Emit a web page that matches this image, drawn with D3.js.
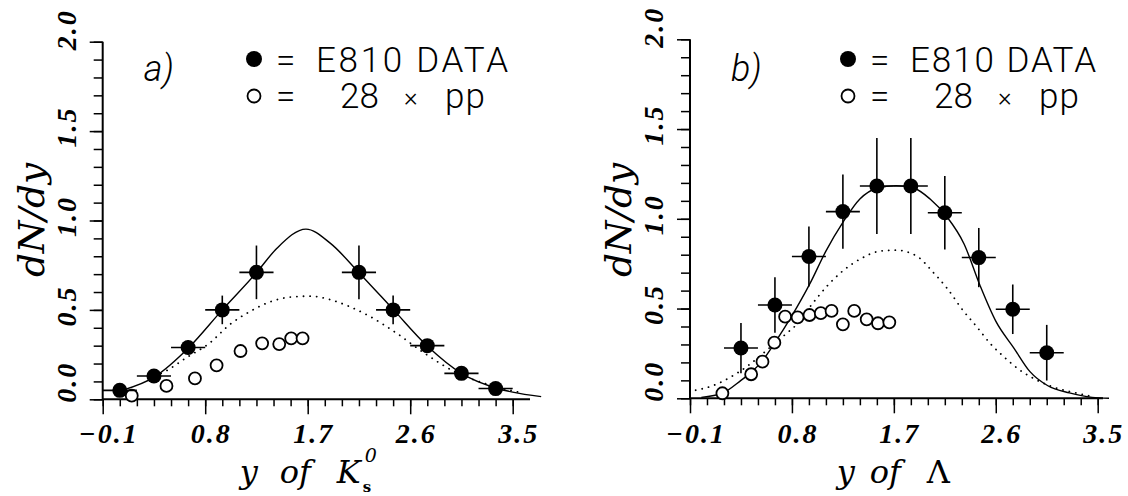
<!DOCTYPE html>
<html>
<head>
<meta charset="utf-8">
<script src="https://cdn.jsdelivr.net/npm/d3@7"></script>
<style>
  body { margin: 0; background: #fff; }
  svg { display: block; }
</style>
</head>
<body>
<svg id="chart" width="1128" height="496"></svg>
<script>
// tick labels (both panels)
const xTickValues = [-0.1, 0.8, 1.7, 2.6, 3.5];
const yTickValues = [0.0, 0.5, 1.0, 1.5, 2.0];

// a) K0s : E810 data
const kaonX = [0.05, 0.35, 0.65, 0.95, 1.25, 2.15, 2.45, 2.75, 3.05, 3.35];
const kaonY = [0.05, 0.13, 0.29, 0.50, 0.71, 0.71, 0.50, 0.30, 0.145, 0.06];
const kaonErr = [0.02, 0.03, 0.04, 0.08, 0.15, 0.15, 0.08, 0.03, 0.02, 0.02];
// a) 28 x pp
const kaonPpX = [0.155, 0.46, 0.71, 0.90, 1.11, 1.30, 1.45, 1.555, 1.655];
const kaonPpY = [0.02, 0.075, 0.117, 0.19, 0.27, 0.313, 0.309, 0.341, 0.341];
// a) solid and dotted curves
const kaonFitX = [0.07, 0.36, 0.65, 0.95, 1.25, 1.43, 1.685, 1.90, 2.15, 2.45, 2.75, 3.05, 3.36, 3.50, 3.75];
const kaonFitY = [0.05, 0.127, 0.285, 0.50, 0.708, 0.845, 0.952, 0.872, 0.708, 0.503, 0.298, 0.145, 0.062, 0.04, 0.015];
const kaonDotX = [0.36, 0.46, 0.64, 0.83, 1.02, 1.19, 1.37, 1.55, 1.72, 1.90, 2.07, 2.25, 2.48, 2.72, 3.01, 3.30, 3.55];
const kaonDotY = [0.13, 0.16, 0.235, 0.31, 0.42, 0.49, 0.545, 0.572, 0.577, 0.557, 0.518, 0.462, 0.37, 0.26, 0.148, 0.08, 0.04];

// b) Lambda : E810 data
const lamX = [0.35, 0.65, 0.95, 1.25, 1.55, 1.85, 2.15, 2.45, 2.75, 3.05];
const lamY = [0.28, 0.52, 0.79, 1.04, 1.183, 1.183, 1.034, 0.784, 0.496, 0.254];
const lamErr = [0.14, 0.155, 0.167, 0.207, 0.267, 0.267, 0.205, 0.165, 0.138, 0.155];
// b) 28 x pp
const lamPpX = [0.186, 0.44, 0.54, 0.645, 0.74, 0.85, 0.955, 1.055, 1.15, 1.25, 1.35, 1.46, 1.56, 1.66];
const lamPpY = [0.028, 0.134, 0.204, 0.31, 0.455, 0.451, 0.464, 0.474, 0.487, 0.412, 0.487, 0.44, 0.418, 0.423];
// b) solid and dotted curves
const lamFitX = [0.0, 0.19, 0.35, 0.45, 0.54, 0.65, 0.80, 0.96, 1.10, 1.25, 1.40, 1.55, 1.72, 1.88, 2.02, 2.17, 2.32, 2.46, 2.60, 2.76, 2.90, 3.06, 3.25, 3.45, 3.60];
const lamFitY = [0.005, 0.03, 0.10, 0.15, 0.21, 0.31, 0.46, 0.64, 0.82, 0.98, 1.11, 1.17, 1.185, 1.17, 1.11, 1.01, 0.86, 0.63, 0.43, 0.28, 0.15, 0.07, 0.03, 0.005, 0.0];
const lamDotX = [-0.05, 0.10, 0.25, 0.43, 0.60, 0.75, 0.84, 0.96, 1.11, 1.25, 1.40, 1.58, 1.72, 1.90, 2.05, 2.17, 2.31, 2.43, 2.55, 2.67, 2.81, 2.96, 3.14, 3.32, 3.45];
const lamDotY = [0.045, 0.07, 0.115, 0.19, 0.28, 0.36, 0.41, 0.51, 0.625, 0.71, 0.775, 0.82, 0.825, 0.793, 0.70, 0.613, 0.49, 0.40, 0.306, 0.232, 0.158, 0.102, 0.056, 0.028, 0.01];

const legendText = ['E810 DATA', '28', '\u00d7', 'pp'];

const svg = d3.select('#chart');

function drawPanel(p) {
  const x = d3.scaleLinear().domain([-0.1, 3.5]).range([p.x0, p.x1]);
  const y = d3.scaleLinear().domain([0, 2]).range([p.yBot, p.yTop]);
  const g = svg.append('g');

  // x ticks (minor every 0.15, major on labels)
  const xMinor = d3.range(25).map(i => -0.1 + i * 0.15);
  g.append('g').attr('transform', `translate(0,${p.yBot})`)
    .call(d3.axisBottom(x).tickValues(xMinor).tickSize(7).tickFormat(''))
    .call(a => a.select('.domain').remove());
  g.append('g').attr('transform', `translate(0,${p.yBot})`)
    .call(d3.axisBottom(x).tickValues(xTickValues).tickSize(15).tickFormat(''))
    .call(a => a.select('.domain').remove());

  // y ticks (minor every 0.1)
  const yMinor = d3.range(21).map(i => i * 0.1);
  g.append('g').attr('transform', `translate(${p.x0},0)`)
    .call(d3.axisLeft(y).tickValues(yMinor).tickSize(9).tickFormat(''))
    .call(a => a.select('.domain').remove());
  g.append('g').attr('transform', `translate(${p.x0},0)`)
    .call(d3.axisLeft(y).tickValues(yTickValues).tickSize(13).tickFormat(''))
    .call(a => a.select('.domain').remove());
  g.selectAll('.tick line').attr('stroke', '#000').attr('stroke-width', 1.5);

  // axis lines
  g.append('line').attr('x1', p.x0).attr('x2', p.axisEnd)
    .attr('y1', p.yBot).attr('y2', p.yBot)
    .attr('stroke', '#000').attr('stroke-width', 2);
  g.append('line').attr('x1', p.x0).attr('x2', p.x0)
    .attr('y1', p.yBot).attr('y2', p.yTop)
    .attr('stroke', '#000').attr('stroke-width', 2);

  // x tick labels
  g.selectAll('.xl').data(xTickValues).enter().append('text')
    .attr('x', d => x(d) + 6).attr('y', 443)
    .attr('text-anchor', 'middle')
    .style('font-family', '"Liberation Serif", serif')
    .style('font-style', 'italic').style('font-weight', 'bold')
    .style('font-size', '28px').style('letter-spacing', '2px')
    .text(d => d < 0 ? '\u2212' + Math.abs(d).toFixed(1) : d.toFixed(1));

  // y tick labels (rotated); end labels pushed away from the corners
  const yOff = d => d === 0 ? 17 : (d === 2 ? 12 : 4);
  g.selectAll('.yl').data(yTickValues).enter().append('text')
    .attr('transform', d => `translate(${p.x0 - 27},${y(d) - yOff(d)}) rotate(-90)`)
    .attr('text-anchor', 'middle')
    .style('font-family', '"Liberation Serif", serif')
    .style('font-style', 'italic').style('font-weight', 'bold')
    .style('font-size', '28px').style('letter-spacing', '2px')
    .text(d => d.toFixed(1));

  // y title
  g.append('text')
    .attr('transform', `translate(${p.x0 - 59},220) rotate(-90)`)
    .attr('text-anchor', 'middle')
    .attr('textLength', 114).attr('lengthAdjust', 'spacingAndGlyphs')
    .style('font-family', '"DejaVu Serif", serif')
    .style('font-style', 'italic').style('font-size', '36px')
    .text('dN/dy');

  // x title
  const tx = x(1.7) + p.titleDx;
  const tFont = s => s.style('font-family', '"DejaVu Serif", serif').style('font-size', '32px');
  g.append('text').attr('x', tx).attr('y', 483).call(tFont).style('font-style', 'italic').text('y');
  g.append('text').attr('x', tx + p.ofDx).attr('y', 483).call(tFont).style('font-style', 'italic').text('of');
  g.append('text').attr('x', tx + p.symDx).attr('y', 483).call(tFont)
    .style('font-style', p.symbolItalic ? 'italic' : 'normal').text(p.symbol);
  if (p.sup) {
    g.append('text').attr('x', tx + p.symDx + 28).attr('y', 462)
      .style('font-family', '"DejaVu Serif", serif').style('font-style', 'italic')
      .style('font-size', '19px').text(p.sup);
    g.append('text').attr('x', tx + p.symDx + 26).attr('y', 492)
      .style('font-family', '"DejaVu Serif", serif').style('font-weight', 'bold')
      .style('font-size', '15px').text(p.sub);
  }

  // panel tag
  g.append('text').attr('x', p.x0 + 41).attr('y', 81)
    .style('font-family', 'Roboto, "Liberation Sans", sans-serif')
    .style('font-style', 'italic').style('font-weight', 300).style('font-size', '36px')
    .text(p.tag);

  // legend
  const lx = p.legX;
  g.append('circle').attr('cx', lx).attr('cy', 59).attr('r', 8).attr('fill', '#000');
  g.append('circle').attr('cx', lx).attr('cy', 96).attr('r', 6.5)
    .attr('fill', '#fff').attr('stroke', '#000').attr('stroke-width', 1.8);
  const legFont = s => s.style('font-family', 'Roboto, "DejaVu Sans", sans-serif')
    .style('font-weight', 300).style('font-size', '35px');
  g.append('text').attr('x', lx + 22).attr('y', 72).call(legFont).text('=');
  g.append('text').attr('x', lx + 22).attr('y', 108).call(legFont).text('=');
  g.append('text').attr('x', lx + 62).attr('y', 72)
    .attr('textLength', p.legLen).attr('lengthAdjust', 'spacing').call(legFont).text(legendText[0]);
  g.append('text').attr('x', lx + 86).attr('y', 108).call(legFont).text(legendText[1]);
  g.append('text').attr('x', lx + 150).attr('y', 106).call(legFont).style('font-size', '26px').text(legendText[2]);
  g.append('text').attr('x', lx + 191).attr('y', 108)
    .attr('textLength', 40).attr('lengthAdjust', 'spacing').call(legFont).text(legendText[3]);

  // curves
  const line = d3.line().x(d => x(d[0])).y(d => y(d[1])).curve(d3.curveMonotoneX);
  g.append('path').attr('d', line(d3.zip(p.dotX, p.dotY)))
    .attr('fill', 'none').attr('stroke', '#000').attr('stroke-width', 1.8)
    .attr('stroke-linecap', 'round').attr('stroke-dasharray', '0.1 6.5');
  g.append('path').attr('d', line(d3.zip(p.fitX, p.fitY)))
    .attr('fill', 'none').attr('stroke', '#000').attr('stroke-width', 1.4);

  // open circles (28 x pp)
  g.selectAll('.pp').data(d3.zip(p.ppX, p.ppY)).enter().append('circle')
    .attr('cx', d => x(d[0])).attr('cy', d => y(d[1])).attr('r', 6)
    .attr('fill', '#fff').attr('stroke', '#000').attr('stroke-width', 1.8);

  // data with error bars
  const pts = p.dataX.map((v, i) => ({ x: v, y: p.dataY[i], e: p.dataErr[i] }));
  const eb = g.selectAll('.eb').data(pts).enter().append('g');
  eb.append('line')
    .attr('x1', d => x(d.x - 0.15)).attr('x2', d => x(d.x + 0.15))
    .attr('y1', d => y(d.y)).attr('y2', d => y(d.y))
    .attr('stroke', '#000').attr('stroke-width', 1.6);
  eb.append('line')
    .attr('x1', d => x(d.x)).attr('x2', d => x(d.x))
    .attr('y1', d => y(d.y - d.e)).attr('y2', d => y(d.y + d.e))
    .attr('stroke', '#000').attr('stroke-width', 1.6);
  eb.append('circle').attr('cx', d => x(d.x)).attr('cy', d => y(d.y))
    .attr('r', 7.5).attr('fill', '#000');
}

drawPanel({
  x0: 102.7, x1: 512.7, yTop: 41.7, yBot: 399.3, axisEnd: 530,
  legX: 254, legLen: 192, tag: 'a)',
  titleDx: -68, ofDx: 40, symDx: 97, symbol: 'K', symbolItalic: true, sup: '0', sub: 's',
  dataX: kaonX, dataY: kaonY, dataErr: kaonErr,
  ppX: kaonPpX, ppY: kaonPpY,
  fitX: kaonFitX, fitY: kaonFitY, dotX: kaonDotX, dotY: kaonDotY
});

drawPanel({
  x0: 690, x1: 1097.7, yTop: 39.3, yBot: 398.3, axisEnd: 1103,
  legX: 848, legLen: 186, tag: 'b)',
  titleDx: -57, ofDx: 33, symDx: 90, symbol: '\u039b', symbolItalic: false,
  dataX: lamX, dataY: lamY, dataErr: lamErr,
  ppX: lamPpX, ppY: lamPpY,
  fitX: lamFitX, fitY: lamFitY, dotX: lamDotX, dotY: lamDotY
});
</script>
</body>
</html>
